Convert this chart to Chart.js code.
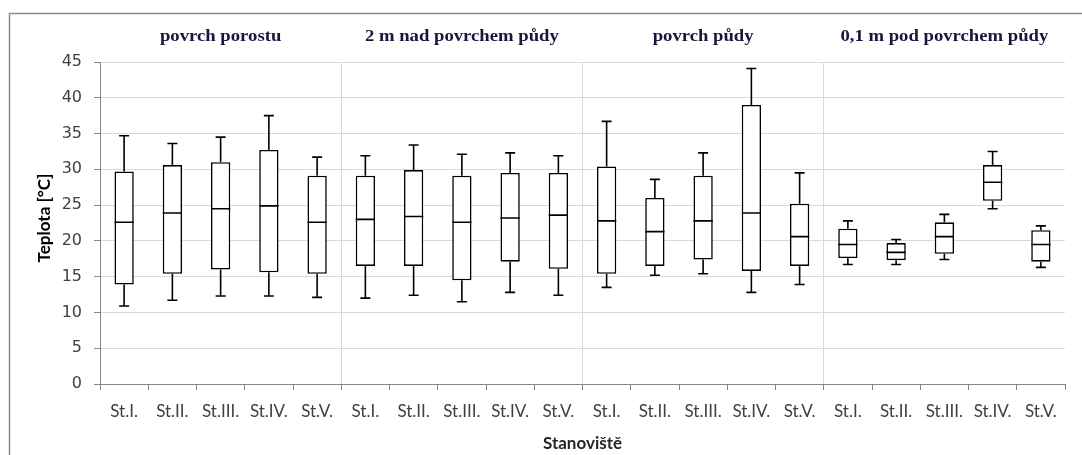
<!DOCTYPE html>
<html>
<head>
<meta charset="utf-8">
<script src="https://cdn.jsdelivr.net/npm/chart.js@4.4.1/dist/chart.umd.min.js"></script>
<style>
  html, body { margin: 0; padding: 0; background: #ffffff; overflow: hidden; }
  #wrap { position: relative; width: 1082px; height: 455px; }
</style>
</head>
<body>
<div id="wrap"><canvas id="chart" width="1082" height="455"></canvas></div>
<script>
// Measurement positions and depth groups
const stations = ['St.I.', 'St.II.', 'St.III.', 'St.IV.', 'St.V.'];
const groups = ['povrch porostu', '2 m nad povrchem půdy', 'povrch půdy', '0,1 m pod povrchem půdy'];

// Temperature statistics [°C], five stations per group, groups in order
const minVals    = [10.9, 11.7, 12.3, 12.3, 12.1,  12.0, 12.4, 11.5, 12.8, 12.4,  13.5, 15.2, 15.4, 12.8, 13.9,  16.7, 16.7, 17.4, 24.5, 16.3];
const q1Vals     = [13.9, 15.4, 16.0, 15.6, 15.4,  16.5, 16.5, 14.5, 17.1, 16.1,  15.4, 16.5, 17.4, 15.8, 16.5,  17.6, 17.3, 18.2, 25.6, 17.1];
const medianVals = [22.6, 23.9, 24.5, 24.9, 22.6,  23.0, 23.4, 22.6, 23.2, 23.6,  22.8, 21.3, 22.8, 23.9, 20.6,  19.5, 18.4, 20.6, 28.2, 19.5];
const q3Vals     = [29.7, 30.6, 31.0, 32.7, 29.1,  29.1, 29.9, 29.1, 29.5, 29.5,  30.4, 26.0, 29.1, 39.0, 25.2,  21.7, 19.7, 22.6, 30.6, 21.5];
const maxVals    = [34.7, 33.6, 34.5, 37.5, 31.7,  31.9, 33.4, 32.1, 32.3, 31.9,  36.7, 28.6, 32.3, 44.1, 29.5,  22.8, 20.2, 23.7, 32.5, 22.1];

const yTicks = [0, 5, 10, 15, 20, 25, 30, 35, 40, 45];

const labels = [];
groups.forEach(() => stations.forEach(s => labels.push(s)));
const boxData = q1Vals.map((q1, i) => [q1, q3Vals[i]]);

// Whiskers, caps and medians drawn onto the box bars
const boxPlotExtras = {
  id: 'boxPlotExtras',
  afterDatasetsDraw(chart) {
    const ctx = chart.ctx;
    const y = chart.scales.y;
    const meta = chart.getDatasetMeta(0);
    ctx.save();
    ctx.strokeStyle = '#000000';
    ctx.lineWidth = 1.6;
    meta.data.forEach((bar, i) => {
      const x = bar.x;
      const half = bar.width / 2;
      const cap = 5;
      const yMin = y.getPixelForValue(minVals[i]);
      const yQ1 = y.getPixelForValue(q1Vals[i]);
      const yMed = y.getPixelForValue(medianVals[i]);
      const yQ3 = y.getPixelForValue(q3Vals[i]);
      const yMax = y.getPixelForValue(maxVals[i]);
      ctx.beginPath();
      ctx.moveTo(x, yQ3); ctx.lineTo(x, yMax);
      ctx.moveTo(x - cap, yMax); ctx.lineTo(x + cap, yMax);
      ctx.moveTo(x, yQ1); ctx.lineTo(x, yMin);
      ctx.moveTo(x - cap, yMin); ctx.lineTo(x + cap, yMin);
      ctx.moveTo(x - half, yMed); ctx.lineTo(x + half, yMed);
      ctx.stroke();
    });
    ctx.restore();
  }
};

// Frame, group headings and axis titles
const decorations = {
  id: 'decorations',
  beforeDraw(chart) {
    const ctx = chart.ctx;
    ctx.save();
    ctx.strokeStyle = '#8c8c8c';
    ctx.lineWidth = 1.5;
    ctx.strokeRect(9.5, 13.5, 1200, 600);
    ctx.restore();
  },
  afterDraw(chart) {
    const ctx = chart.ctx;
    const area = chart.chartArea;
    const width = (area.right - area.left) / groups.length;
    ctx.save();
    ctx.fillStyle = '#17173a';
    ctx.font = 'bold 17px "Liberation Serif"';
    ctx.textAlign = 'center';
    ctx.textBaseline = 'middle';
    groups.forEach((g, gi) => {
      ctx.save();
      ctx.translate(area.left + width * (gi + 0.5), 37);
      ctx.scale(1.1, 1);
      ctx.fillText(g, 0, 0);
      ctx.restore();
    });
    ctx.fillStyle = '#262626';
    ctx.font = 'bold 17px Lato';
    ctx.fillText('Stanoviště', (area.left + area.right) / 2, 444);
    ctx.translate(45, 218);
    ctx.rotate(-Math.PI / 2);
    ctx.fillStyle = '#000000';
    ctx.fillText('Teplota [°C]', 0, 0);
    ctx.restore();
  }
};

new Chart(document.getElementById('chart'), {
  type: 'bar',
  data: {
    labels: labels,
    datasets: [{
      data: boxData,
      backgroundColor: '#ffffff',
      borderColor: '#000000',
      borderWidth: 1.6,
      borderSkipped: false,
      barPercentage: 0.4,
      categoryPercentage: 1.0
    }]
  },
  options: {
    responsive: false,
    animation: false,
    events: [],
    layout: { padding: { left: 0, top: 62, right: 17, bottom: 0 } },
    plugins: { legend: { display: false }, tooltip: { enabled: false } },
    scales: {
      x: {
        offset: true,
        grid: {
          offset: true,
          color: ctx => (ctx.index !== undefined && ctx.index > 0 && ctx.index % stations.length === 0) ? '#d9d9d9' : 'rgba(0,0,0,0)',
          tickColor: '#868686',
          tickLength: 6,
          lineWidth: 1
        },
        border: { color: '#868686', width: 1 },
        ticks: {
          color: '#404040',
          font: { family: 'Lato', size: 17 },
          padding: 11,
          maxRotation: 0,
          autoSkip: false
        },
        afterFit: s => { s.height = 71; }
      },
      y: {
        min: 0,
        max: 45,
        afterBuildTicks: s => { s.ticks = yTicks.map(v => ({ value: v })); },
        grid: { color: '#d9d9d9', tickColor: '#868686', tickLength: 6, lineWidth: 1 },
        border: { color: '#868686', width: 1 },
        ticks: {
          color: '#404040',
          font: { family: 'DejaVu Sans', size: 16 },
          padding: 12
        },
        afterFit: s => { s.width = 100; }
      }
    }
  },
  plugins: [boxPlotExtras, decorations]
});
</script>
</body>
</html>
